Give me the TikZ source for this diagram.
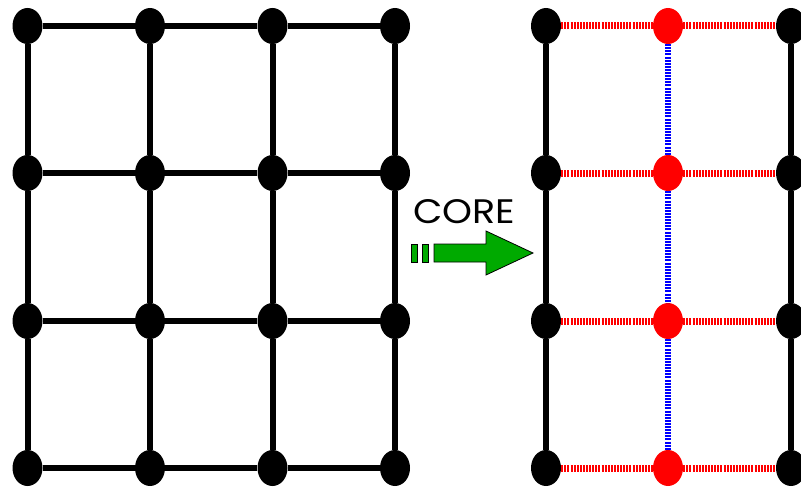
\documentclass[tikz,border=0pt]{standalone}
\usepackage{fontspec}
\setmainfont{Poppins}
\usetikzlibrary{shapes.geometric}
\definecolor{arrowgreen}{RGB}{0,170,0}
\definecolor{redv}{RGB}{255,0,0}
\definecolor{bluev}{RGB}{0,0,255}
\tikzset{
  vtx/.style={ellipse, fill=black, draw=none, minimum width=30pt, minimum height=36pt, inner sep=0pt},
  redvtx/.style={vtx, fill=redv},
  solidedge/.style={line width=6pt, black},
  rededge/.style={line width=7pt, redv, dash pattern=on 2pt off 1.1pt},
  blueedge/.style={line width=6pt, bluev, dash pattern=on 2pt off 1.1pt},
  greenbox/.style={fill=arrowgreen, draw=black, line width=0.8pt},
}
\begin{document}
\begin{tikzpicture}[x=1pt,y=-1pt]
\useasboundingbox (0,0) rectangle (801,487);
\clip (0,0) rectangle (801,487);
% left grid
\foreach \c/\x in {1/27.5,2/150,3/272.5,4/395}{
  \foreach \r/\y in {1/26,2/173,3/321,4/468}{
    \node[vtx] (L\c\r) at (\x,\y) {};
  }
}
\foreach \c in {1,2,3,4}{
  \draw[solidedge] (L\c1) -- (L\c2);
  \draw[solidedge] (L\c2) -- (L\c3);
  \draw[solidedge] (L\c3) -- (L\c4);
}
\foreach \r in {1,2,3,4}{
  \draw[solidedge] (L1\r) -- (L2\r);
  \draw[solidedge] (L2\r) -- (L3\r);
  \draw[solidedge] (L3\r) -- (L4\r);
}
% right grid
\foreach \r/\y in {1/26,2/173,3/321,4/468}{
  \node[vtx] (A\r) at (546,\y) {};
  \node[redvtx] (B\r) at (668,\y) {};
  \node[vtx] (C\r) at (791,\y) {};
}
\foreach \r/\s in {1/2,2/3,3/4}{
  \draw[solidedge] (A\r) -- (A\s);
  \draw[blueedge] (B\r) -- (B\s);
  \draw[solidedge] (C\r) -- (C\s);
}
\foreach \r in {1,2,3,4}{
  \draw[rededge] (A\r) -- (B\r);
  \draw[rededge] (B\r) -- (C\r);
}
% CORE label and arrow
\node[inner sep=0pt] (core) at (464.5,212) {\fontsize{34pt}{36pt}\selectfont\scalebox{1.12}[1]{CORE}};
\draw[greenbox] (411,244) rectangle (417,262);
\draw[greenbox] (422,244) rectangle (428,262);
\draw[greenbox] (434,244) -- (486,244) -- (486,231) -- (533,253) -- (486,275) -- (486,262) -- (434,262) -- cycle;
\end{tikzpicture}
\end{document}
